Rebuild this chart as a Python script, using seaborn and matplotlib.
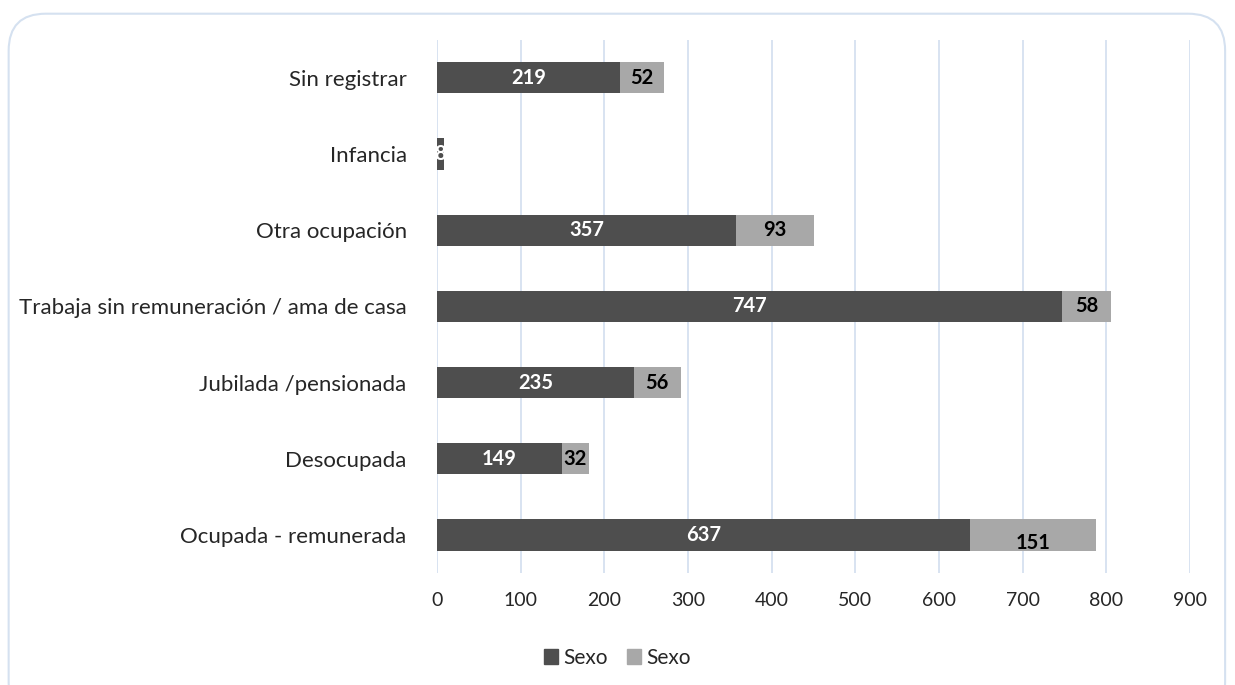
import matplotlib
matplotlib.use("Agg")
import matplotlib.pyplot as plt
from matplotlib.patches import FancyBboxPatch, Patch
import seaborn as sns
import pandas as pd

categorias = ["Sin registrar", "Infancia", "Otra ocupación",
              "Trabaja sin remuneración / ama de casa", "Jubilada /pensionada",
              "Desocupada", "Ocupada - remunerada"]
serie1 = [219, 8, 357, 747, 235, 149, 637]
serie2 = [52, 0, 93, 58, 56, 32, 151]
ticks = [0, 100, 200, 300, 400, 500, 600, 700, 800, 900]

df = pd.DataFrame({"cat": categorias, "s1": serie1, "s2": serie2})
df["total"] = df["s1"] + df["s2"]

sns.set_style("white")
plt.rcParams["font.family"] = ["Lato", "DejaVu Sans"]

fig = plt.figure(figsize=(12.35, 6.85), dpi=100)
ax = fig.add_axes([0.354, 0.1635, 0.6096, 0.7785])

dark = "#4e4e4e"
light = "#a8a8a8"
sns.barplot(data=df, y="cat", x="total", orient="h", color=light,
            saturation=1, width=0.41, ax=ax, order=categorias, linewidth=0)
sns.barplot(data=df, y="cat", x="s1", orient="h", color=dark,
            saturation=1, width=0.41, ax=ax, order=categorias, linewidth=0)

for i, (a, b) in enumerate(zip(serie1, serie2)):
    ax.text(a / 2, i, str(a), color="white", fontweight="bold",
            fontsize=14.5, ha="center", va="center")
    if b > 0:
        dy = 0.1 if b == 151 else 0
        ax.text(a + b / 2, i + dy, str(b), color="black", fontweight="bold",
                fontsize=14.5, ha="center", va="center")

ax.set_xlim(0, 900)
ax.set_xticks(ticks)
ax.set_xticklabels([str(t) for t in ticks], fontsize=14)
ax.tick_params(axis="x", length=0, pad=14)
ax.tick_params(axis="y", length=0, pad=22, labelsize=16)
ax.set_xlabel("")
ax.set_ylabel("")
ax.xaxis.grid(True, color="#d5e1f0", linewidth=1.3)
ax.set_axisbelow(True)
for s in ax.spines.values():
    s.set_visible(False)

handles = [Patch(color=dark, label="Sexo"), Patch(color=light, label="Sexo")]
fig.legend(handles=handles, loc="center", bbox_to_anchor=(0.5, 0.04),
           ncol=2, frameon=False, fontsize=15, handlelength=0.7,
           handleheight=0.7, handletextpad=0.25, columnspacing=0.9)

border = FancyBboxPatch((0.007, -0.05), 0.985, 1.03, transform=fig.transFigure,
                        boxstyle="round,pad=0,rounding_size=0.03",
                        facecolor="none", edgecolor="#d5e1f0", linewidth=1.5,
                        mutation_aspect=1235 / 685)
fig.patches.append(border)

fig.savefig("out.png", dpi=100)
